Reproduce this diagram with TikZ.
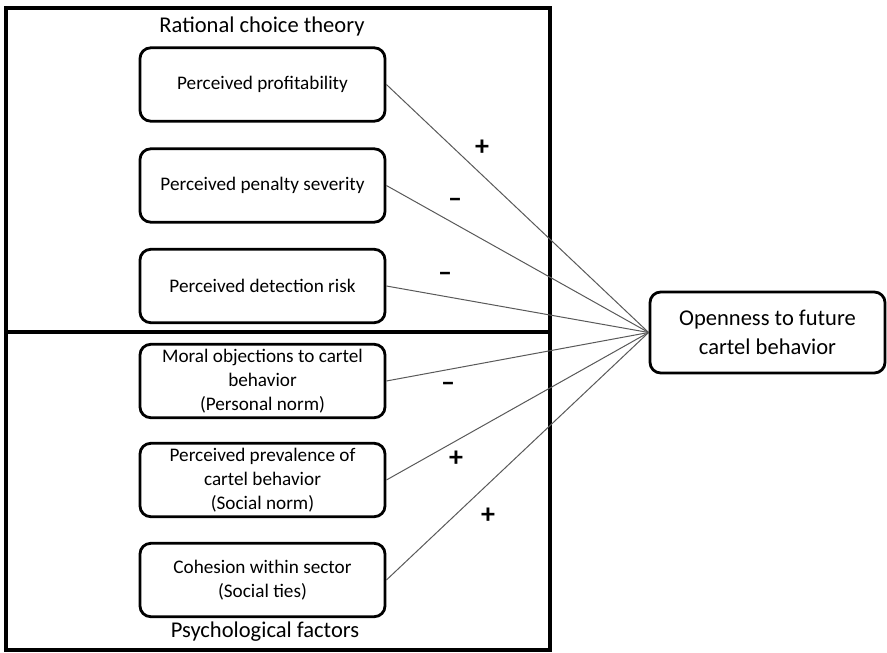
\documentclass[tikz,border=0pt]{standalone}
\usepackage{fontspec}
\setmainfont{Carlito}
\begin{document}
\begin{tikzpicture}[x=0.75pt, y=-0.75pt,
    factor/.style={draw, line width=2.1pt, rounded corners=8pt, align=center,
      minimum width=183.75pt, minimum height=55pt, inner sep=2pt,
      font=\fontsize{14.4}{18}\selectfont},
    outcome/.style={draw, line width=2.1pt, rounded corners=8pt, align=center,
      minimum width=176.25pt, minimum height=60.75pt,
      font=\fontsize{16.9}{21.75}\selectfont},
    heading/.style={font=\fontsize{16.9}{20}\selectfont},
    sign/.style={font=\fontsize{21}{21}\selectfont\bfseries},
    link/.style={black!65, line width=0.75pt}]
  \useasboundingbox (0,0) rectangle (887,652);
  \draw[line width=2.4pt] (6,8) rectangle (550,650);
  \draw[line width=2.4pt] (6,332) -- (550,332);
  \node[heading] (rct) at (262,26) {Rational choice theory};
  \node[heading] (psy) at (265,632) {Psychological factors};
  \node[factor] (prof) at (262.5,84.5) {Perceived profitability};
  \node[factor] (pen) at (262.5,185.5) {Perceived penalty severity};
  \node[factor] (det) at (262.5,286) {Perceived detection risk};
  \node[factor] (moral) at (262.5,381) {Moral objections to cartel\\behavior\\(Personal norm)};
  \node[factor] (prev) at (262.5,480) {Perceived prevalence of\\cartel behavior\\(Social norm)};
  \node[factor] (coh) at (262.5,580) {Cohesion within sector\\(Social ties)};
  \node[outcome] (open) at (767.5,332.5) {Openness to future\\cartel behavior};
  \foreach \F in {prof,pen,det,moral,prev,coh} {
    \draw[link] (\F.east) -- (open.west);
  }
  \node[sign] (sA) at (482,148) {+};
  \node[sign] (sB) at (455,203) {--};
  \node[sign] (sC) at (445,277) {--};
  \node[sign] (sD) at (448,387) {--};
  \node[sign] (sE) at (456,459) {+};
  \node[sign] (sF) at (488,516) {+};
\end{tikzpicture}
\end{document}
